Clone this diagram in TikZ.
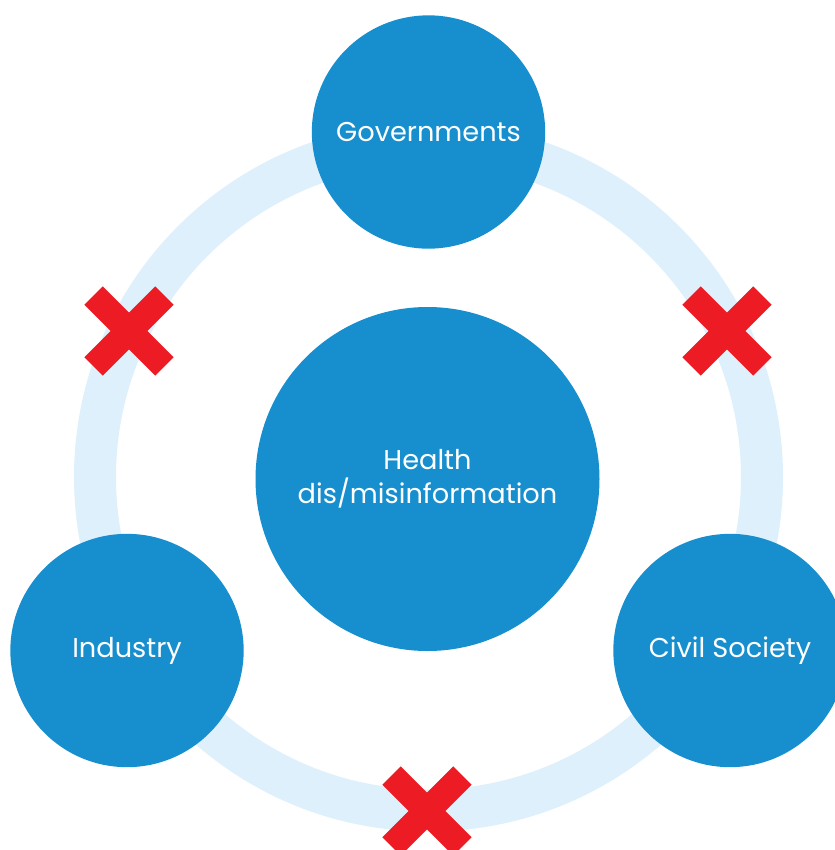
\documentclass[tikz,border=0pt]{standalone}
\usepackage{fontspec}
\setmainfont{Poppins}
\definecolor{nodeblue}{HTML}{178FCF}
\definecolor{ringblue}{HTML}{DDF0FB}
\definecolor{crossred}{HTML}{ED1C24}
\tikzset{
  satellite/.style={circle, fill=nodeblue, minimum size=175pt, inner sep=0pt, text=white, font=\fontsize{20.4}{25.5}\selectfont},
  hub/.style={circle, fill=nodeblue, minimum size=258pt, inner sep=0pt, text=white, align=center, font=\fontsize{20.4}{25.5}\selectfont},
  ringstyle/.style={draw=ringblue, line width=31.5pt},
  crossmark/.style={draw=crossred, line width=19.5pt, line cap=butt},
  anchorpt/.style={inner sep=0pt, minimum size=0pt}
}
\begin{document}
\begin{tikzpicture}[x=0.75pt, y=-0.75pt]
\useasboundingbox (0,0) rectangle (835,850);
\clip (0,0) rectangle (835,850);
\fill[white] (0,0) rectangle (835,850);
% ring
\coordinate (ringc) at (428.5,477);
\draw[ringstyle] (ringc) circle (333.5);
% crosses
\foreach \nm/\px/\py in {xl/129/331, xr/727/331, xb/427/811}{
  \node[anchorpt] (\nm) at (\px,\py) {};
  \draw[crossmark] ([shift={(-35.4,-35.4)}]\nm.center) -- ([shift={(35.4,35.4)}]\nm.center);
  \draw[crossmark] ([shift={(-35.4,35.4)}]\nm.center) -- ([shift={(35.4,-35.4)}]\nm.center);
}
% nodes
\node[satellite] (gov) at (428.5,132) {Governments};
\node[satellite] (ind) at (127,650.5) {Industry};
\node[satellite] (civ) at (730,650.5) {Civil Society};
\node[hub] (hub) at (427.5,479) {Health\\dis/misinformation};
\end{tikzpicture}
\end{document}
